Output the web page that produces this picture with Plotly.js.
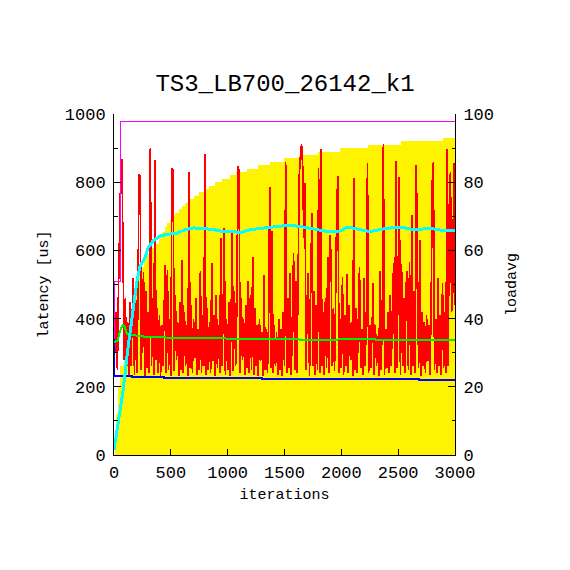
<!DOCTYPE html>
<html>
<head>
<meta charset="utf-8">
<script src="https://cdn.plot.ly/plotly-3.0.1.min.js"></script>
<style>
html,body{margin:0;padding:0;background:#fff;}
#chart{width:570px;height:570px;}
#chart .scatterlayer path{shape-rendering:crispEdges;}
</style>
</head>
<body>
<div id="chart"></div>
<script>
// loadavg (right axis), stepped
var loadIter = [0,10,20,35,55,90,120,144,173,195,217,240,261,283,305,349,393,422,445,466,495,518,540,569,598,628,663,701,745,789,833,891,950,1018,1076,1170,1267,1370,1496,1628,1795,1990,2232,2525,2897,3000];
var loadVal  = [0,5,12,20,26,32,38,42.5,46,50,53,55,57,59,60.6,62,64.5,65.5,67,68,69,70,71,72,73,74,75,76,77,78,79,80,81,82,83,84,85,86,87,88,89,90,91,92,93,93];

// latency samples [us], every 10 iterations
var latStep = 10;
var latency = [
 330,300,420,250,500,684,836,867,640,280,460,240,390,233,450,262,410,519,235,470,
 240,430,824,816,250,400,538,233,480,255,420,240,899,262,460,235,865,280,430,240,
 410,233,380,262,440,557,240,543,250,400,233,841,836,247,470,280,390,231,450,250,
 572,240,420,262,380,233,831,255,440,240,400,285,460,235,370,250,540,240,410,262,
 883,235,430,250,390,240,562,275,410,231,470,255,380,240,636,262,420,665,235,400,
 250,450,233,390,660,247,480,262,420,848,833,240,460,280,400,235,440,255,510,240,
 470,250,582,235,430,262,380,231,400,275,360,233,527,250,370,240,390,787,255,657,
 240,380,262,360,235,400,250,370,231,420,262,860,240,460,255,533,235,480,592,250,
 510,240,560,821,875,912,845,636,797,250,460,535,231,430,709,262,480,235,440,250,
 841,240,896,262,420,235,460,255,580,240,645,580,262,430,247,470,743,818,240,400,
 255,523,235,410,262,530,240,440,280,390,231,811,250,430,240,400,552,255,370,235,
 520,262,410,855,240,380,255,360,505,235,380,262,350,231,540,250,400,912,235,370,
 255,420,240,470,262,440,562,240,862,255,490,815,235,560,262,460,240,500,540,250,
 567,235,704,262,480,240,850,570,255,630,231,420,262,390,240,410,275,380,235,430,
 801,860,250,400,240,520,262,410,235,505,255,420,240,896,262,733,831,420,480,855,440
];
var latIter = latency.map(function(v,i){return i*latStep;});

// running average (green)
var avgIter = [0,30,55,79,95,114,160,270,500,800,1300,1500,1900,2000,2300,2320,3000];
var avgVal  = [332,334,365,384,375,355,352,347,344,342,341,339,338,339,339,336,336];

// minimum (blue)
var minIter = [0,1,160,437,1302,2683,3000];
var minVal  = [337,232,228,225,222,219,219];

// maximum (magenta)
var maxIter = [0,3,55,3000];
var maxVal  = [330,508,977,977];

// cyan curve
var cyIter = [0,35,79,123,167,202,229,273,299,343,405,466,550,620,700,780,860,950,1030,1110,1190,1300,1440,1545,1640,1780,1900,1990,2040,2080,2150,2250,2400,2530,2650,2770,2900,3000];
var cyVal  = [15,90,187,314,431,510,554,578,607,628,642,647,650,660,666,665,662,656,656,652,660,665,671,674,670,662,654,657,666,667,662,655,665,668,660,665,658,657];

var FONT = 'Liberation Mono, Courier New, monospace';

// base axis 'y' = loadavg (right), overlay 'y2' = latency (left) so the fill stays underneath
var traces = [
 {x: loadIter, y: loadVal, yaxis: 'y', type: 'scatter', mode: 'lines',
  line: {shape: 'hv', width: 0, color: '#fff400'}, fill: 'tozeroy', fillcolor: '#fff400',
  hoverinfo: 'skip', name: 'loadavg'},
 {x: latIter, y: latency, yaxis: 'y2', type: 'scatter', mode: 'lines', line: {color: '#ff0000', width: 1.7}, name: 'latency'},
 {x: maxIter, y: maxVal, yaxis: 'y2', type: 'scatter', mode: 'lines', line: {color: '#ff00ff', width: 1, shape: 'hv'}, name: 'max'},
 {x: minIter, y: minVal, yaxis: 'y2', type: 'scatter', mode: 'lines', line: {color: '#0000ff', width: 2, shape: 'hv'}, name: 'min'},
 {x: avgIter, y: avgVal, yaxis: 'y2', type: 'scatter', mode: 'lines', line: {color: '#00ee00', width: 2}, name: 'avg'},
 {x: cyIter, y: cyVal, yaxis: 'y2', type: 'scatter', mode: 'lines', line: {color: '#00ffff', width: 3}, name: 'cyan'}
];

var layout = {
 width: 570, height: 570,
 margin: {l: 114, r: 115, t: 114, b: 115, pad: 0},
 paper_bgcolor: '#ffffff', plot_bgcolor: '#ffffff',
 showlegend: false,
 font: {family: FONT, color: '#000', size: 17},
 title: {text: 'TS3_LB700_26142_k1', font: {family: FONT, size: 24, color: '#000'}, x: 0.5, xanchor: 'center', y: 0.855, yanchor: 'middle'},
 xaxis: {range: [0, 3000], tickvals: [0,500,1000,1500,2000,2500,3000], ticktext: ['0','500','1000','1500','2000','2500','3000'],
  ticks: 'inside', ticklen: 6, tickcolor: '#000', showline: true, linecolor: '#000', linewidth: 1,
  showgrid: false, zeroline: false, mirror: false, ticklabelstandoff: 2,
  tickfont: {family: FONT, size: 17, color: '#000'},
  title: {text: 'iterations', font: {family: FONT, size: 15, color: '#000'}, standoff: 6}},
 yaxis: {range: [0, 100], side: 'right', tickvals: [0,20,40,60,80,100], ticktext: ['0','20','40','60','80','100'],
  ticks: 'inside', ticklen: 7, tickcolor: '#000', showline: true, linecolor: '#000', linewidth: 1,
  showgrid: false, zeroline: false, ticklabelstandoff: 4,
  minor: {tickvals: [10,30,50,70,90], ticks: 'inside', ticklen: 3.5, tickcolor: '#000'},
  tickfont: {family: FONT, size: 17, color: '#000'},
  title: {text: 'loadavg', font: {family: FONT, size: 15, color: '#000'}, standoff: 12}},
 yaxis2: {range: [0, 1000], overlaying: 'y', side: 'left', tickvals: [0,200,400,600,800,1000], ticktext: ['0','200','400','600','800','1000'],
  ticks: 'inside', ticklen: 7, tickcolor: '#000', showline: true, linecolor: '#000', linewidth: 1,
  showgrid: false, zeroline: false, ticklabelstandoff: 4,
  minor: {tickvals: [100,300,500,700,900], ticks: 'inside', ticklen: 3.5, tickcolor: '#000'},
  tickfont: {family: FONT, size: 17, color: '#000'},
  title: {text: 'latency [us]', font: {family: FONT, size: 15, color: '#000'}, standoff: 12}}
};

Plotly.newPlot('chart', traces, layout, {displayModeBar: false, staticPlot: true});
</script>
</body>
</html>
